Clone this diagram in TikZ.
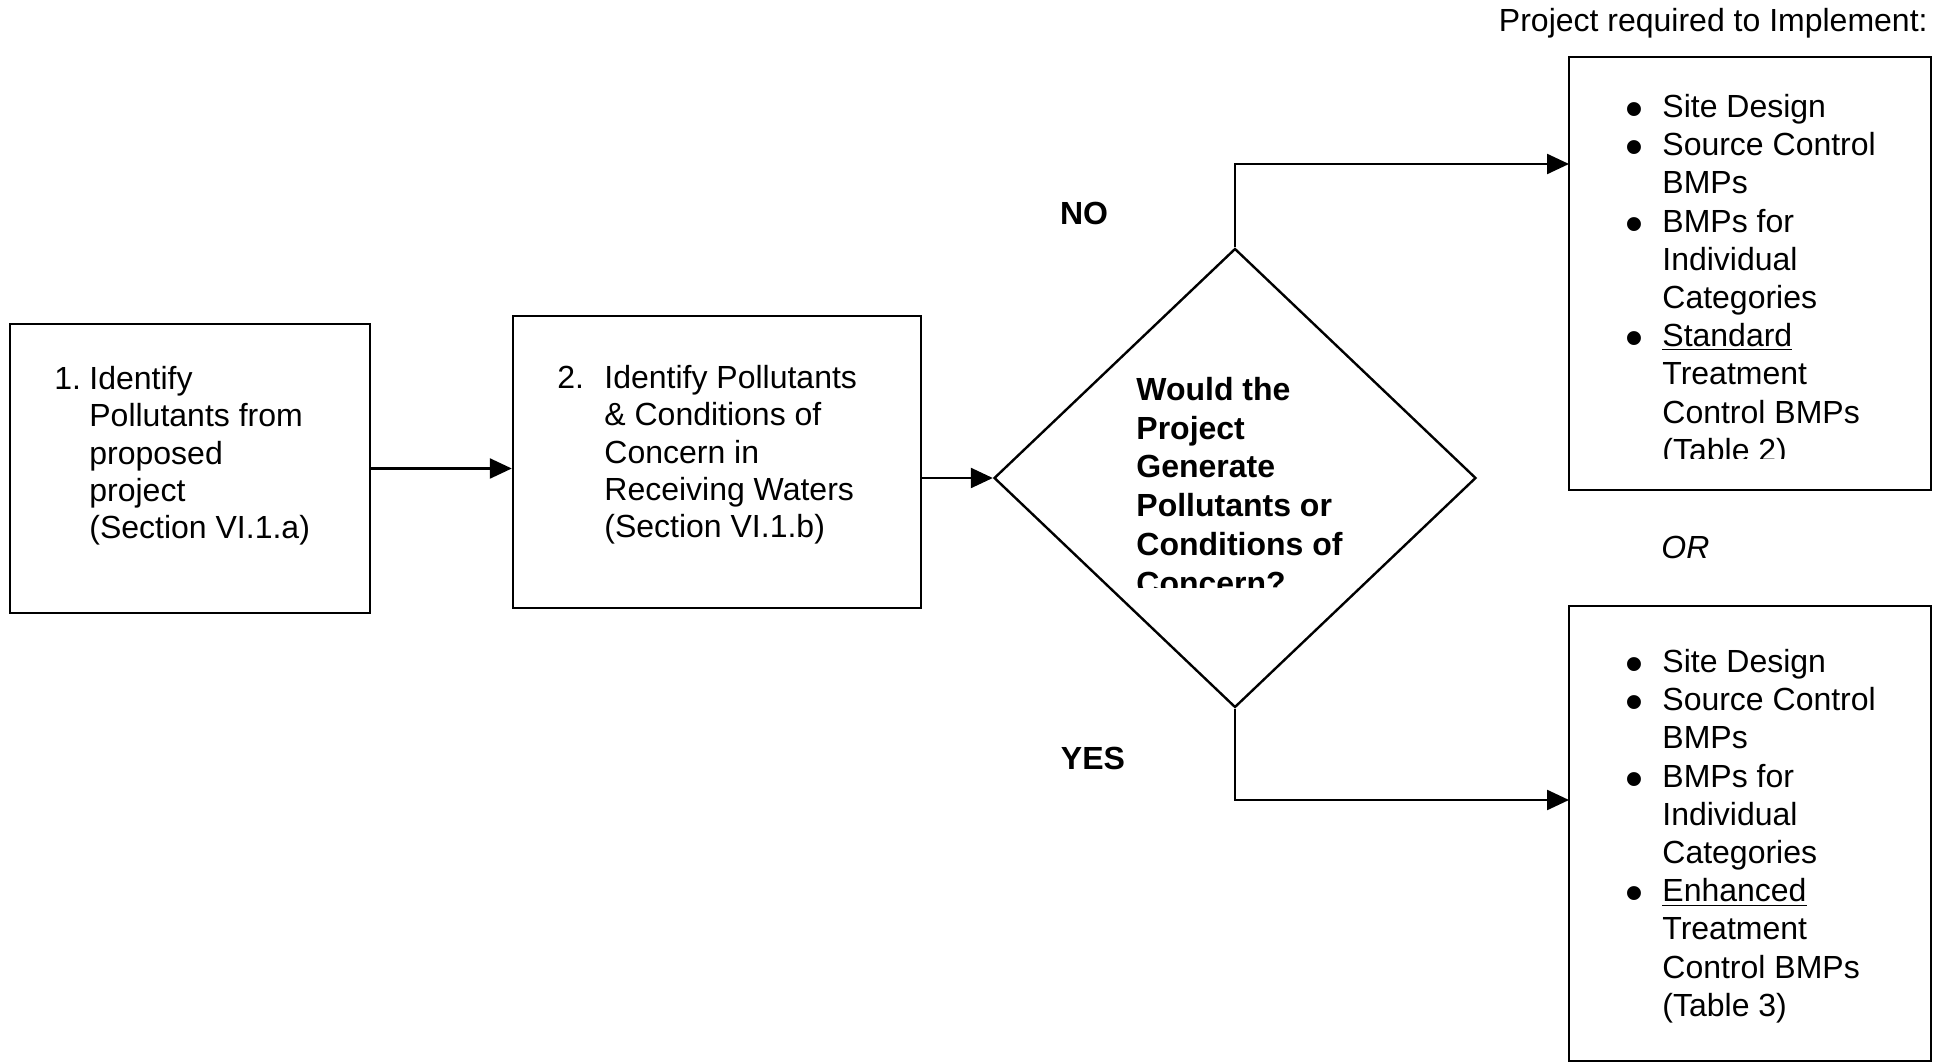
\documentclass[tikz,border=0pt]{standalone}
\usepackage{fontspec}
\setmainfont{Liberation Sans}
\usetikzlibrary{positioning, arrows.meta, shapes.geometric}

\newcommand{\bitem}{\makebox[24pt][l]{\hspace{5.5pt}\smash{\raisebox{-4.5pt}{\scalebox{1.6}{•}}}}}
\newcommand{\bgap}{\hspace*{24pt}}

\begin{document}
\begin{tikzpicture}[x=0.5pt, y=-0.5pt, >={Triangle[length=11pt, width=10pt]},
    box/.style={draw, line width=1.2pt, inner sep=0pt},
    txt/.style={anchor=north west, inner sep=0pt, align=left,
                font=\fontsize{16}{18.65}\selectfont},
    listtxt/.style={txt, font=\fontsize{16}{19.1}\selectfont},
    lbl/.style={inner sep=0pt, font=\fontsize{16}{19}\selectfont},
    link/.style={->, line width=1.2pt}]
    \useasboundingbox (0,0) rectangle (1934,1063);

    % boxes
    \node[box, minimum width=180pt, minimum height=144.5pt] (ident) at (190,468.5) {};
    \node[box, minimum width=204pt, minimum height=146pt] (cond) at (717,462) {};
    \node[box, diamond, minimum width=241pt, minimum height=229.5pt] (question) at (1235,478) {};
    \node[box, minimum width=181pt, minimum height=216.5pt] (nobox) at (1750,273.5) {};
    \node[box, minimum width=181pt, minimum height=227.5pt] (yesbox) at (1750,833.5) {};

    \node[txt] (identtxt) at (54,366)
      {\makebox[17.5pt][l]{1.}Identify\\ \hspace*{17.5pt}Pollutants from\\
       \hspace*{17.5pt}proposed\\ \hspace*{17.5pt}project\\
       \hspace*{17.5pt}(Section VI.1.a)};
    \node[txt] (condtxt) at (557,365)
      {\makebox[23.5pt][l]{2.}Identify Pollutants\\ \hspace*{23.5pt}\& Conditions of\\
       \hspace*{23.5pt}Concern in\\ \hspace*{23.5pt}Receiving Waters\\
       \hspace*{23.5pt}(Section VI.1.b)};

    \begin{scope}
      \clip (1100,360) rectangle (1420,588);
      \node[txt, font=\bfseries\fontsize{16}{19.35}\selectfont] (questiontxt) at (1136,377)
        {Would the\\ Project\\ Generate\\ Pollutants or\\ Conditions of\\ Concern?};
    \end{scope}

    \begin{scope}
      \clip (1580,70) rectangle (1920,459);
      \node[listtxt] (notxt) at (1614,94)
        {\bitem Site Design\\ \bitem Source Control\\ \bgap BMPs\\
         \bitem BMPs for\\ \bgap Individual\\ \bgap Categories\\
         \bitem \underline{Standard}\\ \bgap Treatment\\ \bgap Control BMPs\\
         \bgap (Table 2)};
    \end{scope}
    \node[listtxt] (yestxt) at (1614,649)
      {\bitem Site Design\\ \bitem Source Control\\ \bgap BMPs\\
       \bitem BMPs for\\ \bgap Individual\\ \bgap Categories\\
       \bitem \underline{Enhanced}\\ \bgap Treatment\\ \bgap Control BMPs\\
       \bgap (Table 3)};

    % labels
    \node[lbl, anchor=base east] (implement) at (1928,32) {Project required to Implement:};
    \node[lbl, anchor=base west, font=\itshape\fontsize{16}{19}\selectfont] (orlbl) at (1661,559) {OR};
    \node[lbl, font=\bfseries\fontsize{16}{19}\selectfont] (nolbl) at (1084,213) {NO};
    \node[lbl, font=\bfseries\fontsize{16}{19}\selectfont] (yeslbl) at (1093,758) {YES};

    % connectors
    \coordinate (noend) at (1569,164);
    \coordinate (yesend) at (1569,800);
    \draw[link] (ident.east) -- (ident.east -| cond.west);
    \draw[link] (cond.east |- question.west) -- (question.west);
    \draw[link] (question.north) |- (noend);
    \draw[link] (question.south) |- (yesend);
\end{tikzpicture}
\end{document}
